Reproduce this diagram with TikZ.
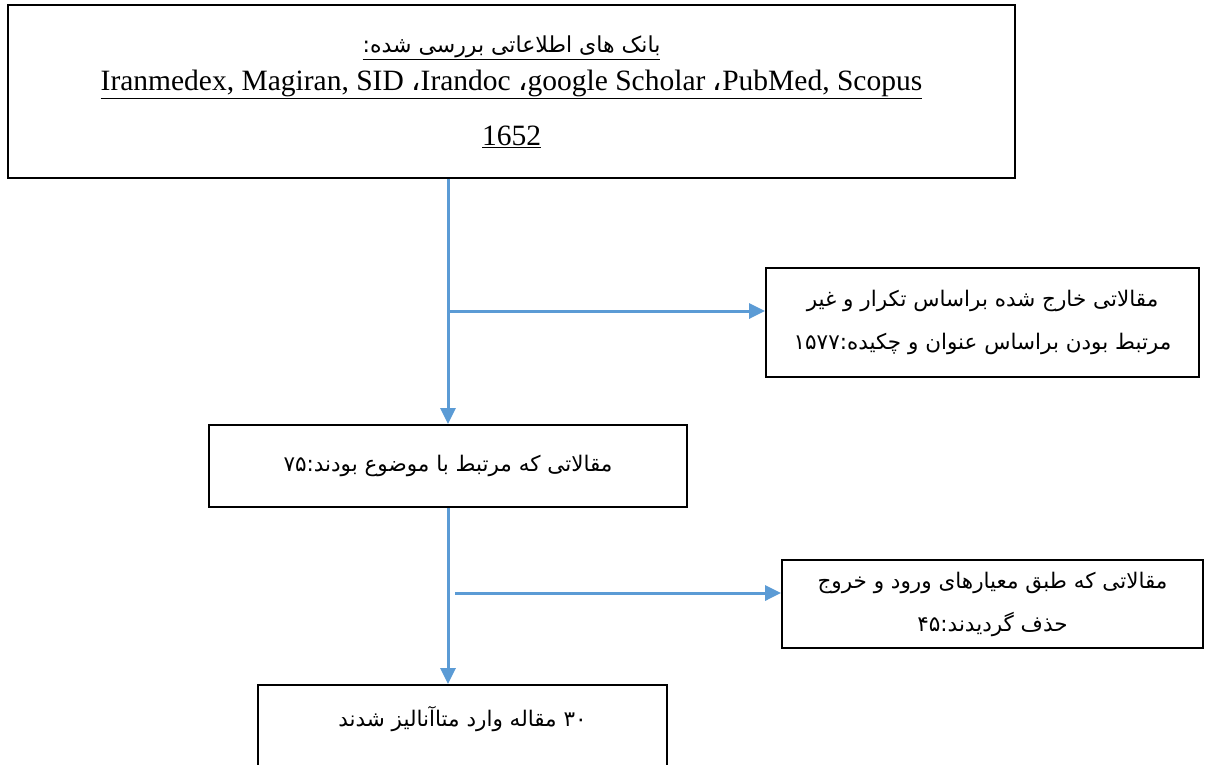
\documentclass[tikz,border=0pt]{standalone}
\usepackage{fontspec}
\setmainfont{Liberation Serif}
\newfontfamily\arabicfont[Script=Arabic]{DejaVu Sans}
\TeXXeTstate=1
\usetikzlibrary{positioning, arrows.meta}
\definecolor{linkblue}{RGB}{91,155,213}
\tikzset{box/.style={rectangle, draw, line width=1.8pt, align=center, inner sep=0pt,
    font=\arabicfont\fontsize{21.5}{43}\selectfont},
  flow/.style={draw=linkblue, line width=3pt, -{Triangle[length=16pt,width=15pt]}, color=linkblue}}

\begin{document}
\begin{tikzpicture}[x=1pt, y=-1pt]
    \useasboundingbox (0,0) rectangle (1221,764);
    \clip (0,0) rectangle (1221,764);
        \node[box, minimum width=1007pt, minimum height=173pt] (databases) at (511.5,91.5)
            {\underline{\fontsize{22}{24}\selectfont\beginR بانک های اطلاعاتی بررسی شده:\endR}\\[-5pt]
             \underline{\rmfamily\fontsize{29.5}{32}\selectfont Iranmedex, Magiran, SID {\arabicfont ،}Irandoc {\arabicfont ،}google Scholar {\arabicfont ،}PubMed, Scopus}\\[12pt]
             \underline{\rmfamily\fontsize{29.5}{32}\selectfont 1652}};
        \node[box, minimum width=433pt, minimum height=109pt] (excluded1) at (982.5,322.5)
            {\beginR مقالاتی خارج شده براساس تکرار و غیر\endR\\
             \beginR مرتبط بودن براساس عنوان و چکیده:۱۵۷۷\endR};
        \node[box, minimum width=478pt, minimum height=82pt] (related) at (448,466)
            {\beginR مقالاتی که مرتبط با موضوع بودند:۷۵\endR};
        \node[box, minimum width=421pt, minimum height=88pt] (excluded2) at (992.5,604)
            {\beginR مقالاتی که طبق معیارهای ورود و خروج\endR\\
             \beginR حذف گردیدند:۴۵\endR};
        \node[box, minimum width=409pt, minimum height=105pt] (included) at (462.5,737.5)
            {\beginR ۳۰ مقاله وارد متاآنالیز شدند\endR\\[-14pt] \strut};
        % connectors
        \coordinate (split1) at (448,311);
        \coordinate (split2) at (455,593);
        \draw[flow] (related.north |- databases.south) -- (related.north);
        \draw[flow] (split1) -- (split1 -| excluded1.west);
        \draw[flow] (related.south) -- (related.south |- included.north);
        \draw[flow] (split2) -- (split2 -| excluded2.west);
    \end{tikzpicture}
\end{document}
